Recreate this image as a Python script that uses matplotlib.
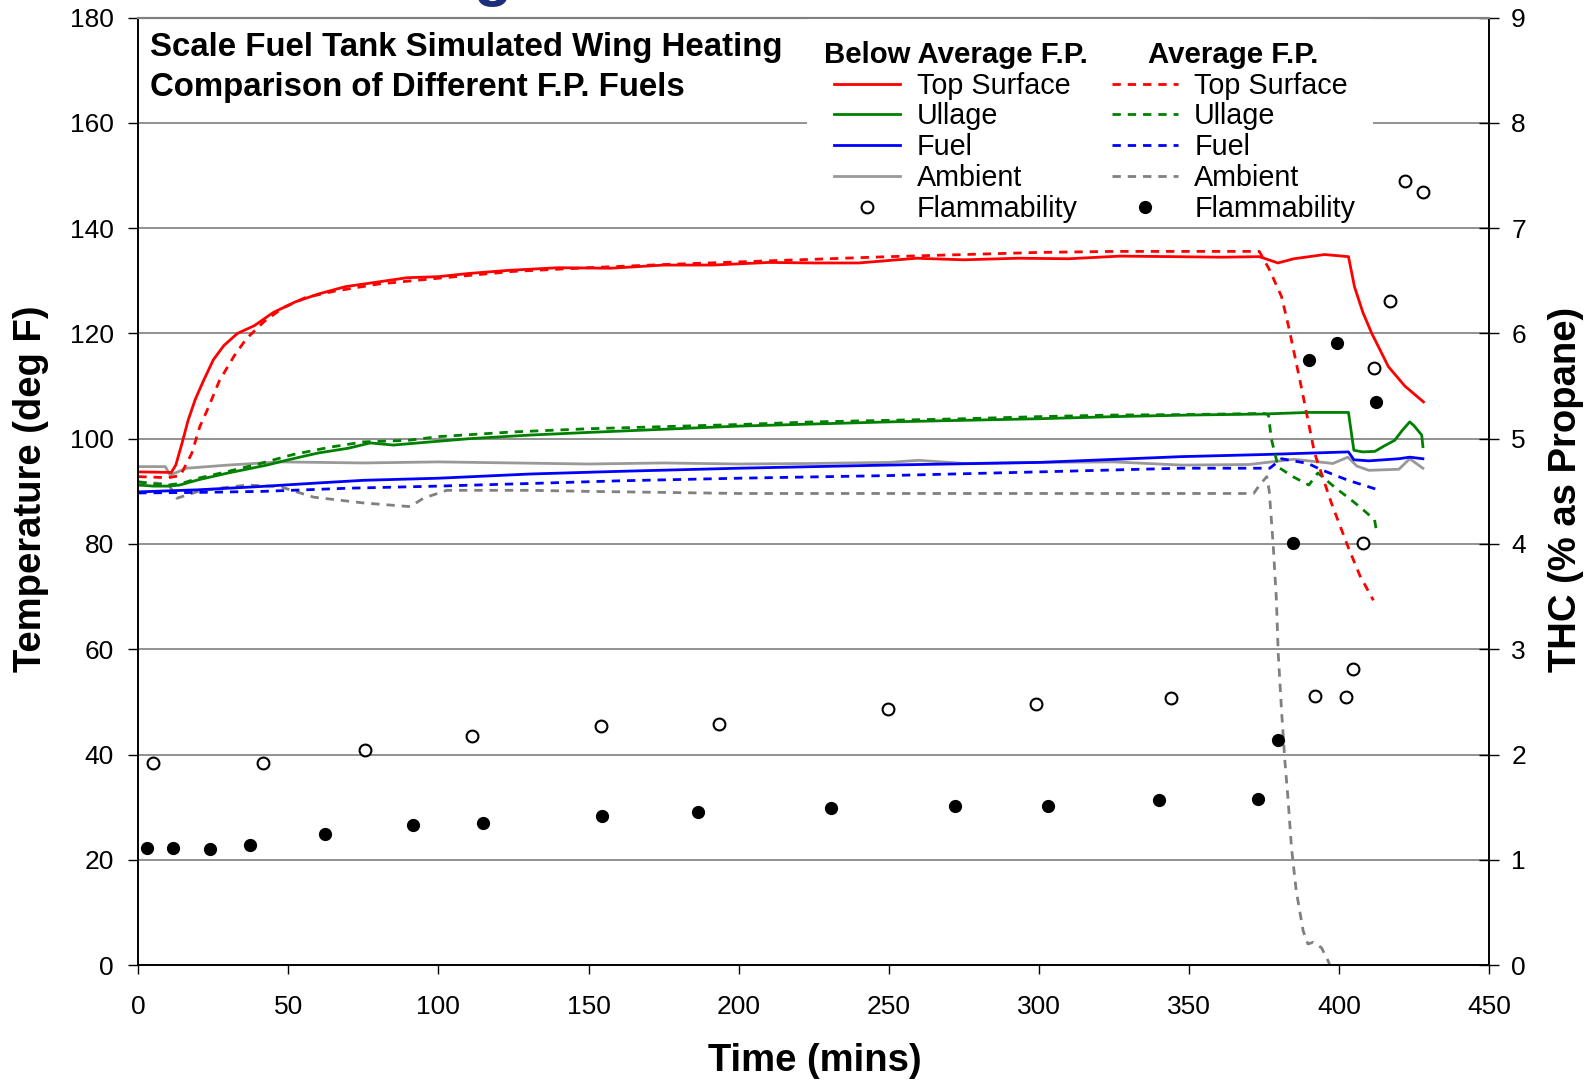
import matplotlib
matplotlib.use('Agg')

import matplotlib.pyplot as plt
from matplotlib.lines import Line2D
from matplotlib.patches import Rectangle

plt.rcParams['font.family'] = ['Liberation Sans', 'DejaVu Sans']

# Below average flash point fuel (solid lines)
top_below_t = [0, 11, 12.5, 14.5, 16.6, 19, 21.7, 25, 28.5, 33, 38.7, 45, 52.3, 60, 69, 80, 89.6, 100,
               110, 123.5, 140, 157.4, 175, 191.4, 210, 225.3, 240, 259.2, 275, 293.2, 310, 327, 345,
               361, 373.5, 379.7, 385, 395.2, 403.2, 405.2, 408, 410.9, 416.5, 422, 428.2]
top_below_v = [93.7, 93.6, 95, 99, 103.5, 107.5, 111, 115, 117.7, 120, 121.5, 124, 126, 127.5, 128.9,
               129.8, 130.6, 130.8, 131.4, 132.0, 132.5, 132.4, 133.0, 133.0, 133.5, 133.4, 133.4,
               134.3, 134.0, 134.3, 134.2, 134.7, 134.6, 134.5, 134.6, 133.4, 134.2, 135.0, 134.6,
               128.9, 124, 120.1, 113.7, 110, 107.0]

ull_below_t = [0, 5, 10, 13.8, 20, 30, 42.9, 50, 60, 70, 77.3, 85, 97.3, 110, 130.6, 150, 175, 200,
               225, 250, 275, 300, 325, 350, 375, 390, 403.2, 405, 408, 412, 415, 418.6, 421, 423.6,
               425, 427.6, 428]
ull_below_v = [91.2, 91.0, 91.0, 91.2, 92.2, 93.5, 95.0, 96.0, 97.3, 98.2, 99.2, 98.8, 99.4, 100.0,
               100.7, 101.2, 101.8, 102.4, 102.8, 103.2, 103.5, 103.8, 104.2, 104.5, 104.7, 105.0,
               105.0, 97.8, 97.5, 97.6, 98.6, 99.7, 101.5, 103.2, 102.5, 100.7, 98.5]

fuel_below_t = [0, 20, 40, 60, 75, 100, 130.6, 160, 200, 250, 300, 347.5, 375, 403.2, 405, 410, 420,
                423.6, 428]
fuel_below_v = [89.9, 90.3, 90.9, 91.6, 92.1, 92.5, 93.3, 93.8, 94.4, 95.0, 95.5, 96.6, 97.0, 97.5,
                96.0, 95.8, 96.2, 96.5, 96.2]

amb_below_t = [0, 9, 10.6, 16.1, 30, 47.2, 75, 100, 125, 150, 175, 200, 225, 250, 260, 275, 300, 325,
               347.5, 370, 385, 398, 403, 406, 410, 420, 423.6, 428]
amb_below_v = [94.7, 94.7, 93.1, 94.4, 95.0, 95.6, 95.4, 95.6, 95.4, 95.2, 95.4, 95.2, 95.3, 95.5,
               95.9, 95.3, 95.5, 95.6, 95.0, 95.1, 96.1, 95.3, 96.5, 94.8, 94.0, 94.2, 96.2, 94.4]

# Average flash point fuel (dotted lines)
top_avg_t = [0, 10, 14, 17.8, 20.5, 23.4, 27, 31.9, 36, 42, 48, 55.6, 65, 80, 100, 125, 150, 175, 200,
             225, 250, 275, 300, 325, 350, 373.5, 376.9, 380.9, 383.3, 387.5, 391.9, 397.5, 403.1,
             407, 411.5]
top_avg_v = [92.8, 92.6, 93, 97.2, 102.3, 106, 111, 115.7, 119, 122.3, 124.8, 126.8, 128, 129.4,
             130.5, 131.8, 132.5, 133.1, 133.6, 134.1, 134.6, 135.0, 135.4, 135.6, 135.6, 135.6,
             132.1, 127, 121.2, 109.8, 97.3, 87.8, 79.4, 74, 69.3]

ull_avg_t = [0, 5, 10, 15, 20, 30, 40, 51.6, 63.9, 75, 90, 100, 125, 150, 175, 200, 225, 250, 275,
             300, 325, 350, 375, 376.5, 377.5, 379.8, 385, 390, 393, 399, 403.4, 407.5, 411.9, 412.6]
ull_avg_v = [91.8, 91.4, 91.2, 91.6, 92.5, 93.8, 95.2, 97.0, 98.4, 99.4, 99.7, 100.4, 101.3, 101.9,
             102.3, 102.7, 103.2, 103.5, 103.8, 104.2, 104.5, 104.6, 104.8, 104.6, 100, 94.6, 92.7,
             91.2, 93.5, 90.6, 88.7, 86.8, 84.6, 82.2]

fuel_avg_t = [0, 20, 41.6, 70, 100, 130.6, 160, 200, 250, 300, 347.5, 373, 377, 380.9, 389.7, 394.2,
              398.6, 403.1, 408.1, 412.5]
fuel_avg_v = [89.7, 89.8, 90.0, 90.6, 91.0, 91.5, 92.0, 92.5, 93.0, 93.7, 94.4, 94.4, 94.4, 96.2,
              95.3, 94.1, 93.1, 92.1, 91.2, 90.4]

amb_avg_t = [0, 10, 12.9, 20, 27, 36.2, 47.2, 58.4, 75, 90.6, 95, 102.8, 130.6, 150, 200, 250, 300,
             350, 371.6, 373.6, 376, 376.8, 377.5, 378.1, 379.2, 379.8, 380.9, 382, 383.1, 384.2,
             385.8, 388.1, 389.7, 391.4, 394.2, 396.4, 397]
amb_avg_v = [91.8, 91.4, 88.7, 90.0, 90.6, 91.2, 90.9, 88.9, 87.8, 87.1, 88.7, 90.2, 90.2, 90.0, 89.6,
             89.6, 89.6, 89.6, 89.6, 91.2, 92.8, 90.1, 84.7, 80.0, 69.3, 59.2, 48.4, 38.9, 31.3,
             22.4, 14.1, 6.5, 4.0, 4.3, 3.3, 0.8, 0.0]

# Flammability (THC, % as propane)
flam_below_t = [4.75, 41.7, 75.7, 111.3, 154, 193.4, 249.7, 299, 344, 391.9, 402.4, 404.8, 408.2,
                411.6, 417, 422.1, 427.9]
flam_below_v = [1.92, 1.92, 2.04, 2.18, 2.27, 2.29, 2.43, 2.48, 2.54, 2.56, 2.55, 2.81, 4.01, 5.67,
                6.31, 7.45, 7.34]

flam_avg_t = [3.05, 11.5, 23.8, 37.3, 62.1, 91.6, 115, 154.4, 186.6, 230.7, 272.1, 303, 340, 372.9,
              379.7, 384.8, 389.9, 399.4, 412.3]
flam_avg_v = [1.11, 1.11, 1.10, 1.14, 1.24, 1.33, 1.35, 1.42, 1.45, 1.49, 1.51, 1.51, 1.57, 1.58,
              2.14, 4.01, 5.75, 5.91, 5.35]

RED, GREEN, BLUE = '#ff0000', '#008000', '#0000ff'
GRAY_SOLID, GRAY_DOT = '#999999', '#808080'
DOT = (0, (3, 2.5))

fig = plt.figure(figsize=(15.95, 10.81), dpi=100, facecolor='white')
ax = fig.add_axes([0.0867, 0.1073, 0.8468, 0.8763])
ax2 = ax.twinx()

lw = 2
ax.plot(amb_below_t, amb_below_v, color=GRAY_SOLID, lw=lw)
ax.plot(amb_avg_t, amb_avg_v, color=GRAY_DOT, lw=lw, ls=DOT)
ax.plot(fuel_below_t, fuel_below_v, color=BLUE, lw=lw)
ax.plot(fuel_avg_t, fuel_avg_v, color=BLUE, lw=lw, ls=DOT)
ax.plot(ull_below_t, ull_below_v, color=GREEN, lw=lw)
ax.plot(ull_avg_t, ull_avg_v, color=GREEN, lw=lw, ls=DOT)
ax.plot(top_below_t, top_below_v, color=RED, lw=lw)
ax.plot(top_avg_t, top_avg_v, color=RED, lw=lw, ls=DOT)

ms = 8.5
ax2.plot(flam_below_t, flam_below_v, ls='none', marker='o', ms=ms, mfc='white', mec='black', mew=1.5)
ax2.plot(flam_avg_t, flam_avg_v, ls='none', marker='o', ms=ms, mfc='black', mec='black')

ax.set_xlim(0, 450)
ax.set_ylim(0, 180)
ax2.set_ylim(0, 9)
ax.set_xticks(range(0, 451, 50))
ax.set_yticks(range(0, 181, 20))
ax2.set_yticks(range(0, 10))

ax.set_axisbelow(True)
ax.yaxis.grid(True, color='#7f7f7f', lw=1.2)
ax.xaxis.grid(False)

for a in (ax, ax2):
    a.spines['top'].set_color('#808080')
    a.spines['top'].set_linewidth(1.5)
    for s in ('left', 'right', 'bottom'):
        a.spines[s].set_linewidth(1.2)

ax.tick_params(axis='y', direction='out', length=7, width=1, pad=10.5, labelsize=19)
ax.tick_params(axis='x', direction='out', length=6.5, width=1, pad=15, labelsize=19)
ax2.tick_params(axis='y', direction='inout', length=14, width=1, pad=9, labelsize=19)

ax.set_xlabel('Time (mins)', fontsize=27.5, fontweight='bold')
ax.set_ylabel('Temperature (deg F)', fontsize=27.5, fontweight='bold')
ax2.set_ylabel('THC (% as Propane)', fontsize=27.5, fontweight='bold')
ax.xaxis.set_label_coords(0.5008, -0.0823)
ax.yaxis.set_label_coords(-0.0663, 0.5024)
ax2.yaxis.set_label_coords(1.0437, 0.5024)

ax2.text(0.009, 0.985, 'Scale Fuel Tank Simulated Wing Heating\nComparison of Different F.P. Fuels',
         transform=ax2.transAxes, ha='left', va='top', fontsize=23.8, fontweight='bold', linespacing=1.36)

# white backing for the legend block
ax2.add_patch(Rectangle((0.495, 0.78), 0.419, 0.219, transform=ax2.transAxes,
                        facecolor='white', edgecolor='none', zorder=3))

labels = ['Top Surface', 'Ullage', 'Fuel', 'Ambient', 'Flammability']
h_below = [Line2D([], [], color=RED, lw=lw), Line2D([], [], color=GREEN, lw=lw),
           Line2D([], [], color=BLUE, lw=lw), Line2D([], [], color=GRAY_SOLID, lw=lw),
           Line2D([], [], ls='none', marker='o', ms=ms, mfc='white', mec='black', mew=1.5)]
h_avg = [Line2D([], [], color=RED, lw=lw, ls=DOT), Line2D([], [], color=GREEN, lw=lw, ls=DOT),
         Line2D([], [], color=BLUE, lw=lw, ls=DOT), Line2D([], [], color=GRAY_DOT, lw=lw, ls=DOT),
         Line2D([], [], ls='none', marker='o', ms=ms, mfc='black', mec='black')]

leg_kw = dict(loc='upper left', frameon=False, fontsize=20.7, handlelength=2.3, handletextpad=0.57,
              labelspacing=0.1, borderpad=0, borderaxespad=0,
              title_fontproperties={'weight': 'bold', 'size': 21.2})
leg1 = ax2.legend(h_below, labels, title='Below Average F.P.', bbox_to_anchor=(0.5077, 0.9757), **leg_kw)
ax2.add_artist(leg1)
leg2 = ax2.legend(h_avg, labels, title='Average F.P.', bbox_to_anchor=(0.7207, 0.9757), **leg_kw)
leg1.set_zorder(5)
leg2.set_zorder(5)

# bottom of the slide heading that sits above the chart
fig.text(0.3088, 1.0056, 'g', fontsize=45, fontweight='bold', color='#1f2e78', ha='center', va='baseline')

fig.savefig('out.png', dpi=100)
